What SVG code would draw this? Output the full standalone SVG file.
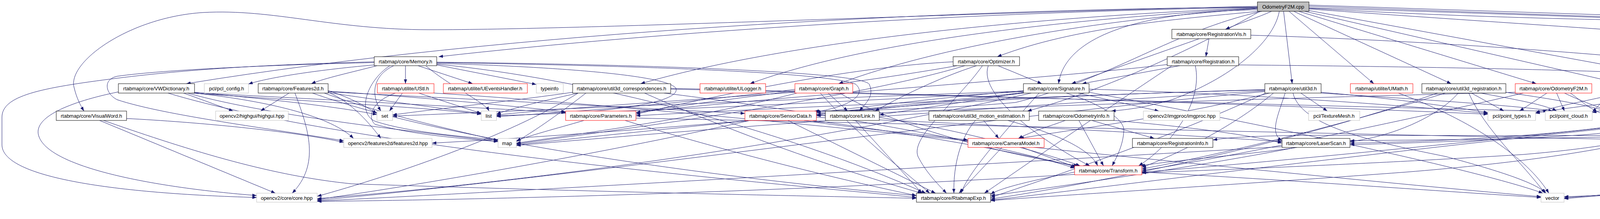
<svg xmlns="http://www.w3.org/2000/svg" width="5443" height="560" viewBox="0 0 5443 560">
<defs>
<marker id="a" markerWidth="11" markerHeight="8" refX="11" refY="4" orient="auto" markerUnits="userSpaceOnUse"><path d="M0,0 L11,4 L0,8 z" fill="#191970"/></marker>
<style>
rect{fill:#fff;stroke:#000;stroke-width:1}
.g rect{stroke:#bfbfbf}
.r rect{stroke:#ff0000}
.root rect{fill:#bfbfbf;stroke:#000}
text{font-family:"Liberation Sans",Arial,sans-serif;font-size:13px;text-anchor:middle;fill:#000}
#edges path{fill:none;stroke:#191970;stroke-width:1;marker-end:url(#a)}
</style>
</defs>
<rect x="0" y="0" width="5443" height="560" style="fill:#fff;stroke:none"/>
<g id="edges">
<path d="M3219,16 C2400,35 1500,76 1100,76 C850,76 700,22 520,32 C330,44 170,160 190,225 C196,250 205,268 215,284"/>
<path d="M3219,18 C2400,25 1300,80 477,214"/>
<path d="M3219,19 C2500,30 1700,80 1123,145"/>
<path d="M3219,20 C2600,45 2000,110 1640,214"/>
<path d="M3219,21 C2700,50 2200,110 1920,214"/>
<path d="M3219,22 C2800,50 2400,120 2147,214"/>
<path d="M3222,29 C3000,50 2750,70 2553,145"/>
<path d="M3219,25 C2900,30 2725,100 2710,214"/>
<path d="M3275,29 C3260,110 3150,200 3000,255 C2930,275 2890,280 2845,284"/>
<path d="M3255,29 C3220,45 3170,60 3137,75"/>
<path d="M3230,29 C3000,80 2850,200 2600,262 C2400,280 2200,282 2085,284"/>
<path d="M3286,29 L3308,214"/>
<path d="M3300,29 L3517,214"/>
<path d="M3312,29 L3715,214"/>
<path d="M3325,29 L3933,214"/>
<path d="M3340,29 L4150,214"/>
<path d="M3351,27 L4373,214"/>
<path d="M3351,20 C4000,40 4600,62 4921,80"/>
<path d="M3351,16 L5107,78"/>
<path d="M3351,13 L5319,78"/>
<path d="M3351,21 C4000,60 4650,55 4820,60 C4875,64 4883,120 4883,200 L4883,320 C4885,370 4895,400 4905,424"/>
<path d="M3351,23 C4000,70 4500,95 4800,140 C4830,148 4833,165 4833,185 L4833,250 C4833,300 4780,330 4730,354"/>
<path d="M3225,29 C3050,130 2800,240 2630,284"/>
<path d="M3095,99 L3087,145"/>
<path d="M3070,99 L2743,214"/>
<path d="M3202,90 C3700,105 4300,150 4500,185 C4620,210 4712,240 4717,275 C4720,300 4705,312 4650,325 C4450,350 3800,356 3456,360"/>
<path d="M3171,166 C3600,170 4300,180 4510,207 C4650,230 4735,260 4740,285 C4742,305 4730,315 4670,330 C4450,352 3800,346 3400,346 C3250,346 3150,350 3105,358"/>
<path d="M3020,168 L2770,214"/>
<path d="M2988,165 C2700,200 2000,245 1628,288"/>
<path d="M3060,168 C3080,260 3000,370 2915,424"/>
<path d="M3000,168 C2800,300 2600,440 2520,494"/>
<path d="M1038,168 L1038,214"/>
<path d="M1070,168 L1210,214"/>
<path d="M1118,166 L1373,216"/>
<path d="M1008,168 C960,190 945,235 975,284"/>
<path d="M998,168 C935,210 915,290 960,310 C1050,340 1200,350 1275,358"/>
<path d="M965,168 C900,185 830,200 797,214"/>
<path d="M958,166 C800,180 680,200 636,215"/>
<path d="M958,158 C700,165 500,175 300,200 C100,225 5,245 5,300 L5,370 C5,455 300,495 657,505"/>
<path d="M958,160 C700,166 420,178 300,195 C262,203 270,240 300,255 C420,295 700,330 880,360"/>
<path d="M1118,162 C1400,170 1700,190 1730,225 C1745,258 1600,280 1448,290"/>
<path d="M1118,160 C1500,166 2100,180 2190,215 C2220,240 2180,272 2088,286"/>
<path d="M1118,159 C1600,164 2200,182 2225,215 C2240,245 2215,265 2200,284"/>
<path d="M1118,164 C1500,200 2000,330 2370,494"/>
<path d="M1090,168 C1150,220 1240,260 1252,284"/>
<path d="M470,238 L597,284"/>
<path d="M303,235 C180,260 80,300 100,350 C130,430 400,480 657,500"/>
<path d="M498,238 C700,260 850,300 905,354"/>
<path d="M498,236 C650,250 850,270 965,293"/>
<path d="M480,238 C700,300 1100,340 1275,362"/>
<path d="M490,238 C800,260 1100,275 1232,292"/>
<path d="M498,237 C900,258 1300,280 1448,288"/>
<path d="M430,238 C900,380 2000,470 2346,505"/>
<path d="M324,303 C500,312 750,335 880,364"/>
<path d="M255,308 L705,494"/>
<path d="M265,308 C500,390 700,450 900,470 C1500,490 2000,500 2346,507"/>
<path d="M740,238 L667,284"/>
<path d="M755,238 C790,330 820,420 748,494"/>
<path d="M840,236 C900,260 950,320 975,354"/>
<path d="M840,232 C900,250 940,275 965,290"/>
<path d="M840,233 C1100,250 1350,275 1448,286"/>
<path d="M840,235 C1300,258 1700,280 1907,290"/>
<path d="M830,238 C1000,300 1200,340 1275,360"/>
<path d="M840,237 C1000,260 1150,280 1232,290"/>
<path d="M800,238 C1200,380 2000,470 2346,500"/>
<path d="M1030,238 L997,284"/>
<path d="M1072,238 L1232,290"/>
<path d="M1012,238 C950,260 940,300 960,318 C1050,342 1150,352 1275,362"/>
<path d="M1111,238 C1800,280 3000,420 3945,503"/>
<path d="M1650,238 C1900,350 2200,450 2360,494"/>
<path d="M1700,238 C2200,300 2600,380 2751,430"/>
<path d="M1717,226 C2400,240 3300,270 3809,292"/>
<path d="M1717,228 C2500,245 3500,275 3962,284"/>
<path d="M1480,238 C1300,350 1000,450 812,502"/>
<path d="M1466,236 C1300,260 1100,280 1005,294"/>
<path d="M1500,238 C1420,300 1360,340 1322,362"/>
<path d="M1480,238 C1380,260 1300,280 1271,292"/>
<path d="M2120,238 L2170,284"/>
<path d="M2040,238 C1800,300 1500,340 1322,366"/>
<path d="M2035,236 C1700,260 1400,280 1271,294"/>
<path d="M2150,238 C2300,330 2600,400 2760,424"/>
<path d="M2100,238 C2200,350 2330,450 2380,494"/>
<path d="M2035,232 C1900,250 1700,275 1628,288"/>
<path d="M2760,238 L2967,284"/>
<path d="M2730,238 C2800,260 2880,300 2877,335 C2875,370 2860,400 2847,424"/>
<path d="M2620,232 C2400,250 2200,275 2090,288"/>
<path d="M2620,236 C2450,265 2300,285 2251,294"/>
<path d="M2788,228 C3200,240 3600,270 3809,290"/>
<path d="M2620,237 C2200,280 1600,340 1322,370"/>
<path d="M2620,234 C2200,260 1600,285 1271,296"/>
<path d="M2620,233 C2000,255 1400,280 1005,297"/>
<path d="M2640,238 C2000,380 1300,470 812,508"/>
<path d="M2620,238 C2200,290 1500,345 1106,366"/>
<path d="M2660,238 C2560,350 2480,440 2460,494"/>
<path d="M2788,236 C3300,330 3800,440 3950,494"/>
<path d="M2555,168 L2667,214"/>
<path d="M2500,168 C2400,200 2300,250 2240,284"/>
<path d="M2515,168 C2450,260 2330,350 2350,400 C2370,440 2400,470 2423,494"/>
<path d="M2440,158 C2200,170 1900,230 1628,292"/>
<path d="M2470,168 C2200,250 1600,330 1322,368"/>
<path d="M2450,168 C2100,230 1600,280 1271,298"/>
<path d="M2530,168 C2500,250 2700,380 2790,424"/>
<path d="M3330,238 L3398,284"/>
<path d="M3250,238 C3000,300 2750,330 2610,354"/>
<path d="M3310,238 C3330,320 3500,360 3700,400 C3850,440 3935,470 3958,494"/>
<path d="M3382,236 C3550,250 3700,270 3809,288"/>
<path d="M3382,238 C3700,258 3900,272 3975,284"/>
<path d="M3260,238 C3150,330 3000,400 2923,428"/>
<path d="M3240,238 C3000,350 2700,450 2536,505"/>
<path d="M3238,234 C2500,300 1500,450 812,512"/>
<path d="M3238,230 C2800,240 2300,265 2090,294"/>
<path d="M3238,229 C2700,245 2000,275 1628,296"/>
<path d="M3238,232 C2600,270 1800,330 1322,372"/>
<path d="M3290,238 C3270,300 3250,340 3282,360"/>
<path d="M3580,238 C3800,320 3920,420 3965,494"/>
<path d="M3767,238 L3850,284"/>
<path d="M3790,238 C3900,258 3960,270 3985,284"/>
<path d="M3855,236 C3950,250 4050,265 4113,284"/>
<path d="M3733,238 C3680,300 3560,350 3456,362"/>
<path d="M3700,238 C3400,330 3100,400 2923,432"/>
<path d="M3680,238 C3300,370 2800,470 2536,509"/>
<path d="M3760,238 C3800,330 3900,420 3955,494"/>
<path d="M3960,238 L3890,284"/>
<path d="M3985,238 L4005,284"/>
<path d="M4005,238 C4040,255 4080,270 4120,284"/>
<path d="M3879,236 C3300,250 2500,275 2090,296"/>
<path d="M3900,238 C3500,330 3100,410 2923,436"/>
<path d="M4020,238 C4060,265 4080,300 4200,312 C4500,325 4790,340 4800,380 C4805,420 4600,460 4004,508"/>
<path d="M4197,238 L4163,284"/>
<path d="M4150,238 C4050,260 3970,275 3931,288"/>
<path d="M4120,238 C4100,260 4090,275 4076,286"/>
<path d="M4213,238 C4230,280 4220,305 4180,315 C4000,345 3700,362 3456,366"/>
<path d="M4225,238 C4270,285 4240,310 4190,318 C3800,360 3200,420 2923,440"/>
<path d="M4235,238 C4295,285 4260,312 4200,320 C3600,380 2900,470 2536,512"/>
<path d="M4470,238 L4580,284"/>
<path d="M4390,238 L4200,284"/>
<path d="M4350,238 C4200,255 4000,275 3931,290"/>
<path d="M4337,236 C4250,250 4150,270 4076,288"/>
<path d="M4420,238 C4380,290 4250,330 4050,345 C3800,360 3600,366 3456,370"/>
<path d="M4430,238 C4400,320 4200,370 3900,395 C3500,420 3100,435 2923,442"/>
<path d="M4440,238 C4420,330 4100,400 3600,440 C3200,470 2700,500 2536,513"/>
<path d="M1600,308 C1900,400 2200,470 2346,500"/>
<path d="M1495,308 C1420,330 1360,345 1322,360"/>
<path d="M1628,302 C2500,320 4000,356 4585,364"/>
<path d="M2017,308 L2395,494"/>
<path d="M2058,308 C2200,330 2380,345 2478,358"/>
<path d="M2080,308 C2400,350 2650,400 2755,426"/>
<path d="M2090,300 C2600,320 3100,350 3282,362"/>
<path d="M1920,308 C1600,380 1100,470 812,510"/>
<path d="M2251,300 C2500,340 2700,400 2765,424"/>
<path d="M2190,308 L2360,494"/>
<path d="M2518,308 L2557,354"/>
<path d="M2497,308 C2460,350 2440,420 2442,494"/>
<path d="M2580,308 C2700,340 2790,380 2810,424"/>
<path d="M2762,308 L2825,424"/>
<path d="M2795,308 L2955,354"/>
<path d="M2727,308 C2690,322 2640,336 2607,354"/>
<path d="M2852,308 C3050,325 3200,345 3282,366"/>
<path d="M2565,377 L2455,494"/>
<path d="M2617,377 C2680,400 2720,415 2755,428"/>
<path d="M3320,377 C3200,395 3000,410 2920,424"/>
<path d="M3317,377 C3100,420 2700,480 2536,500"/>
<path d="M3282,375 C2500,420 1500,480 812,514"/>
<path d="M4672,377 C4580,440 4300,495 4004,503"/>
<path d="M4854,446 C4500,470 4200,490 4004,506"/>
<path d="M2751,440 C2650,460 2560,480 2536,497"/>
<path d="M2923,440 C3300,460 3700,490 3945,505"/>
<path d="M2751,446 C2000,490 1300,510 812,515"/>
</g>
<g id="n_root" class="root"><rect x="3219" y="5" width="132" height="24"/><text x="3285" y="21.5">OdometryF2M.cpp</text></g>
<g id="n_rv"><rect x="3000" y="75" width="202" height="24"/><text x="3101" y="91.5">rtabmap/core/RegistrationVis.h</text></g>
<g id="n_ut" class="r"><rect x="4921" y="75" width="163" height="24"/><text x="5002" y="91.5">rtabmap/utilite/UTimer.h</text></g>
<g id="n_cb" class="g"><rect x="5107" y="75" width="187" height="24"/><text x="5200" y="91.5">opencv2/calib3d/calib3d.hpp</text></g>
<g id="n_io" class="g"><rect x="5319" y="75" width="119" height="24"/><text x="5378" y="91.5">pcl/common/io.h</text></g>
<g id="n_me"><rect x="958" y="145" width="160" height="23"/><text x="1038" y="161.5">rtabmap/core/Memory.h</text></g>
<g id="n_op"><rect x="2440" y="145" width="170" height="23"/><text x="2525" y="161.5">rtabmap/core/Optimizer.h</text></g>
<g id="n_rg"><rect x="2988" y="145" width="183" height="23"/><text x="3080" y="161.5">rtabmap/core/Registration.h</text></g>
<g id="n_vd"><rect x="303" y="214" width="195" height="24"/><text x="400" y="230.5">rtabmap/core/VWDictionary.h</text></g>
<g id="n_pc" class="g"><rect x="523" y="214" width="113" height="24"/><text x="580" y="230.5">pcl/pcl_config.h</text></g>
<g id="n_f2"><rect x="661" y="214" width="179" height="24"/><text x="750" y="230.5">rtabmap/core/Features2d.h</text></g>
<g id="n_us" class="r"><rect x="966" y="214" width="145" height="24"/><text x="1038" y="230.5">rtabmap/utilite/UStl.h</text></g>
<g id="n_ue" class="r"><rect x="1135" y="214" width="215" height="24"/><text x="1242" y="230.5">rtabmap/utilite/UEventsHandler.h</text></g>
<g id="n_ti" class="g"><rect x="1373" y="214" width="69" height="24"/><text x="1407" y="230.5">typeinfo</text></g>
<g id="n_uc3"><rect x="1466" y="214" width="251" height="24"/><text x="1591" y="230.5">rtabmap/core/util3d_correspondences.h</text></g>
<g id="n_ul" class="r"><rect x="1792" y="214" width="168" height="24"/><text x="1876" y="230.5">rtabmap/utilite/ULogger.h</text></g>
<g id="n_gr" class="r"><rect x="2035" y="214" width="148" height="24"/><text x="2109" y="230.5">rtabmap/core/Graph.h</text></g>
<g id="n_sg"><rect x="2620" y="214" width="168" height="24"/><text x="2704" y="230.5">rtabmap/core/Signature.h</text></g>
<g id="n_u3"><rect x="3238" y="214" width="144" height="24"/><text x="3310" y="230.5">rtabmap/core/util3d.h</text></g>
<g id="n_um" class="r"><rect x="3457" y="214" width="160" height="24"/><text x="3537" y="230.5">rtabmap/utilite/UMath.h</text></g>
<g id="n_ur"><rect x="3640" y="214" width="215" height="24"/><text x="3747" y="230.5">rtabmap/core/util3d_registration.h</text></g>
<g id="n_of" class="r"><rect x="3879" y="214" width="196" height="24"/><text x="3977" y="230.5">rtabmap/core/OdometryF2M.h</text></g>
<g id="n_utr"><rect x="4099" y="214" width="214" height="24"/><text x="4206" y="230.5">rtabmap/core/util3d_transforms.h</text></g>
<g id="n_uf"><rect x="4337" y="214" width="194" height="24"/><text x="4434" y="230.5">rtabmap/core/util3d_filtering.h</text></g>
<g id="n_vw"><rect x="144" y="284" width="180" height="24"/><text x="234" y="300.5">rtabmap/core/VisualWord.h</text></g>
<g id="n_hg" class="g"><rect x="552" y="284" width="186" height="24"/><text x="645" y="300.5">opencv2/highgui/highgui.hpp</text></g>
<g id="n_set" class="g"><rect x="965" y="284" width="40" height="24"/><text x="985" y="300.5">set</text></g>
<g id="n_li" class="g"><rect x="1232" y="284" width="39" height="24"/><text x="1251" y="300.5">list</text></g>
<g id="n_pa" class="r"><rect x="1448" y="284" width="180" height="24"/><text x="1538" y="300.5">rtabmap/core/Parameters.h</text></g>
<g id="n_sd" class="r"><rect x="1907" y="284" width="183" height="24"/><text x="1998" y="300.5">rtabmap/core/SensorData.h</text></g>
<g id="n_lk"><rect x="2113" y="284" width="138" height="24"/><text x="2182" y="300.5">rtabmap/core/Link.h</text></g>
<g id="n_me3"><rect x="2378" y="284" width="257" height="24"/><text x="2506" y="300.5">rtabmap/core/util3d_motion_estimation.h</text></g>
<g id="n_oi"><rect x="2659" y="284" width="193" height="24"/><text x="2755" y="300.5">rtabmap/core/OdometryInfo.h</text></g>
<g id="n_ip" class="g"><rect x="2927" y="284" width="196" height="24"/><text x="3025" y="300.5">opencv2/imgproc/imgproc.hpp</text></g>
<g id="n_tm" class="g"><rect x="3350" y="284" width="131" height="24"/><text x="3415" y="300.5">pcl/TextureMesh.h</text></g>
<g id="n_pt" class="g"><rect x="3809" y="284" width="122" height="24"/><text x="3870" y="300.5">pcl/point_types.h</text></g>
<g id="n_pcl" class="g"><rect x="3956" y="284" width="120" height="24"/><text x="4016" y="300.5">pcl/point_cloud.h</text></g>
<g id="n_pb" class="g"><rect x="4099" y="284" width="108" height="24"/><text x="4153" y="300.5">pcl/pcl_base.h</text></g>
<g id="n_mc" class="g"><rect x="4535" y="284" width="159" height="24"/><text x="4614" y="300.5">pcl/ModelCoefficients.h</text></g>
<g id="n_fd" class="g"><rect x="880" y="354" width="226" height="23"/><text x="993" y="370.5">opencv2/features2d/features2d.hpp</text></g>
<g id="n_map" class="g"><rect x="1275" y="354" width="47" height="23"/><text x="1298" y="370.5">map</text></g>
<g id="n_cm" class="r"><rect x="2478" y="354" width="195" height="23"/><text x="2575" y="370.5">rtabmap/core/CameraModel.h</text></g>
<g id="n_ri"><rect x="2899" y="354" width="206" height="23"/><text x="3002" y="370.5">rtabmap/core/RegistrationInfo.h</text></g>
<g id="n_ls"><rect x="3282" y="354" width="174" height="23"/><text x="3369" y="370.5">rtabmap/core/LaserScan.h</text></g>
<g id="n_ucv" class="r"><rect x="4585" y="354" width="195" height="23"/><text x="4682" y="370.5">rtabmap/utilite/UConversion.h</text></g>
<g id="n_tr" class="r"><rect x="2751" y="424" width="172" height="23"/><text x="2837" y="440.5">rtabmap/core/Transform.h</text></g>
<g id="n_fl" class="r"><rect x="4854" y="424" width="115" height="23"/><text x="4911" y="440.5">rtflann/flann.hpp</text></g>
<g id="n_co" class="g"><rect x="657" y="494" width="155" height="23"/><text x="734" y="510.5">opencv2/core/core.hpp</text></g>
<g id="n_re"><rect x="2346" y="494" width="190" height="23"/><text x="2441" y="510.5">rtabmap/core/RtabmapExp.h</text></g>
<g id="n_ve" class="g"><rect x="3945" y="494" width="59" height="23"/><text x="3974" y="510.5">vector</text></g>
</svg>
